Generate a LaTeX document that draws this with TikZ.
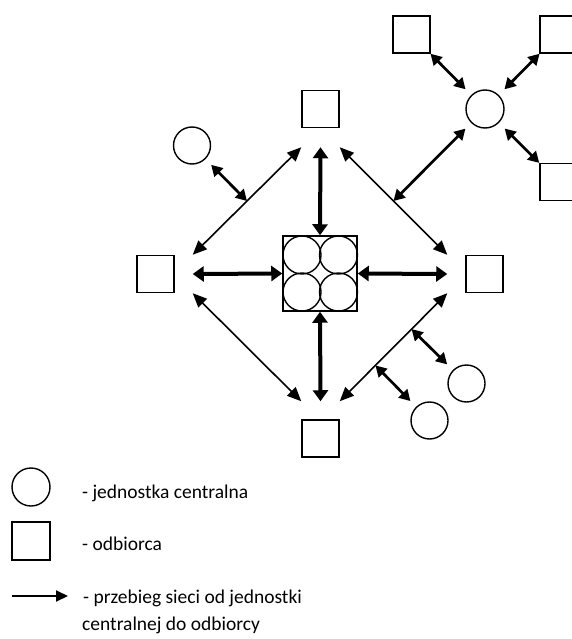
\documentclass[tikz,border=0pt]{standalone}
\usepackage{fontspec}
\setmainfont{Carlito}
\usetikzlibrary{arrows.meta}
\tikzset{
  sq/.style={draw, line width=1.5pt, minimum size=37pt, inner sep=0pt, shape=rectangle},
  circ/.style={draw, line width=1.4pt, circle, minimum size=37pt, inner sep=0pt},
  slimarr/.style={line width=1.6pt, {Triangle[length=14pt,width=12pt]}-{Triangle[length=14pt,width=12pt]}},
  bigarr/.style={line width=4pt, {Triangle[length=11pt,width=15pt]}-{Triangle[length=11pt,width=15pt]}},
  midarr/.style={line width=2.7pt, {Triangle[length=11pt,width=12pt]}-{Triangle[length=11pt,width=12pt]}},
  legtxt/.style={anchor=base west, inner sep=0pt, font=\fontsize{19.5}{27}\selectfont},
}
\begin{document}
\begin{tikzpicture}[x=1pt,y=-1pt]
\useasboundingbox (0,0) rectangle (572,639);
\clip (0,0) rectangle (572,639);
% receivers
\node[sq] (T) at (320.5,109) {};
\node[sq] (L) at (155.5,274) {};
\node[sq] (B) at (320.5,438.5) {};
\node[sq] (R) at (484.5,274) {};
% central block
\node[draw, line width=1.5pt, minimum width=74pt, minimum height=75pt, inner sep=0pt] (C) at (320,273.5) {};
\node[circ, minimum size=38pt] (c1) at (302,255) {};
\node[circ, minimum size=38pt] (c2) at (338.5,255) {};
\node[circ, minimum size=38pt] (c3) at (302,292) {};
\node[circ, minimum size=38pt] (c4) at (338.5,292) {};
% thick arrows
\draw[bigarr] ([yshift=-19pt]T.south) -- (C.north);
\draw[bigarr] (C.south) -- ([yshift=18pt]B.north);
\draw[bigarr] ([xshift=18pt]L.east) -- (C.west);
\draw[bigarr] (C.east) -- ([xshift=-18pt]R.west);
% diagonals
\draw[slimarr] ([yshift=-19pt]T.south west) -- ([xshift=18pt]L.north east) coordinate[pos=0.5] (mTL);
\draw[slimarr] ([yshift=-19pt]T.south east) -- ([xshift=-18pt]R.north west) coordinate[pos=0.5] (mTR);
\draw[slimarr] ([xshift=18pt]L.south east) -- ([yshift=18pt]B.north west);
\draw[slimarr] ([yshift=18pt]B.north east) -- ([xshift=-18pt]R.south west) coordinate[pos=0.332] (mB1) coordinate[pos=0.668] (mB2);
% small central units
\node[circ] (u1) at (192,145.5) {};
\node[circ] (u2) at (466.5,383.5) {};
\node[circ] (u3) at (429.5,420.5) {};
\draw[midarr, shorten <=8pt] (u1) -- (mTL);
\draw[midarr, shorten <=8pt] (u2) -- (mB2);
\draw[midarr, shorten <=8pt] (u3) -- (mB1);
% cluster top right
\node[circ, minimum size=38pt] (K) at (485,109) {};
\node[sq] (S1) at (411.5,34.5) {};
\node[sq] (S2) at (558.5,34.5) {};
\node[sq] (S3) at (558.5,182) {};
\draw[midarr, shorten >=8pt] (S1) -- (K);
\draw[midarr, shorten >=8pt] (S2) -- (K);
\draw[midarr, shorten >=8pt] (S3) -- (K);
\draw[midarr, shorten <=8pt] (K) -- (mTR);
% legend
\node[circ, minimum size=38pt] (lc) at (31,487) {};
\node[sq, minimum size=38pt] (ls) at (31,541) {};
\coordinate (la) at (12,596);
\coordinate (lb) at (68,596);
\draw[line width=2pt, -{Triangle[length=12pt,width=11pt]}] (la) -- (lb);
\node[legtxt] (t1) at (82,498) {- jednostka centralna};
\node[legtxt] (t2) at (82,550) {- odbiorca};
\node[legtxt] (t3) at (83,603) {- przebieg sieci od jednostki};
\node[legtxt] (t4) at (82,630) {centralnej do odbiorcy};
\end{tikzpicture}
\end{document}
